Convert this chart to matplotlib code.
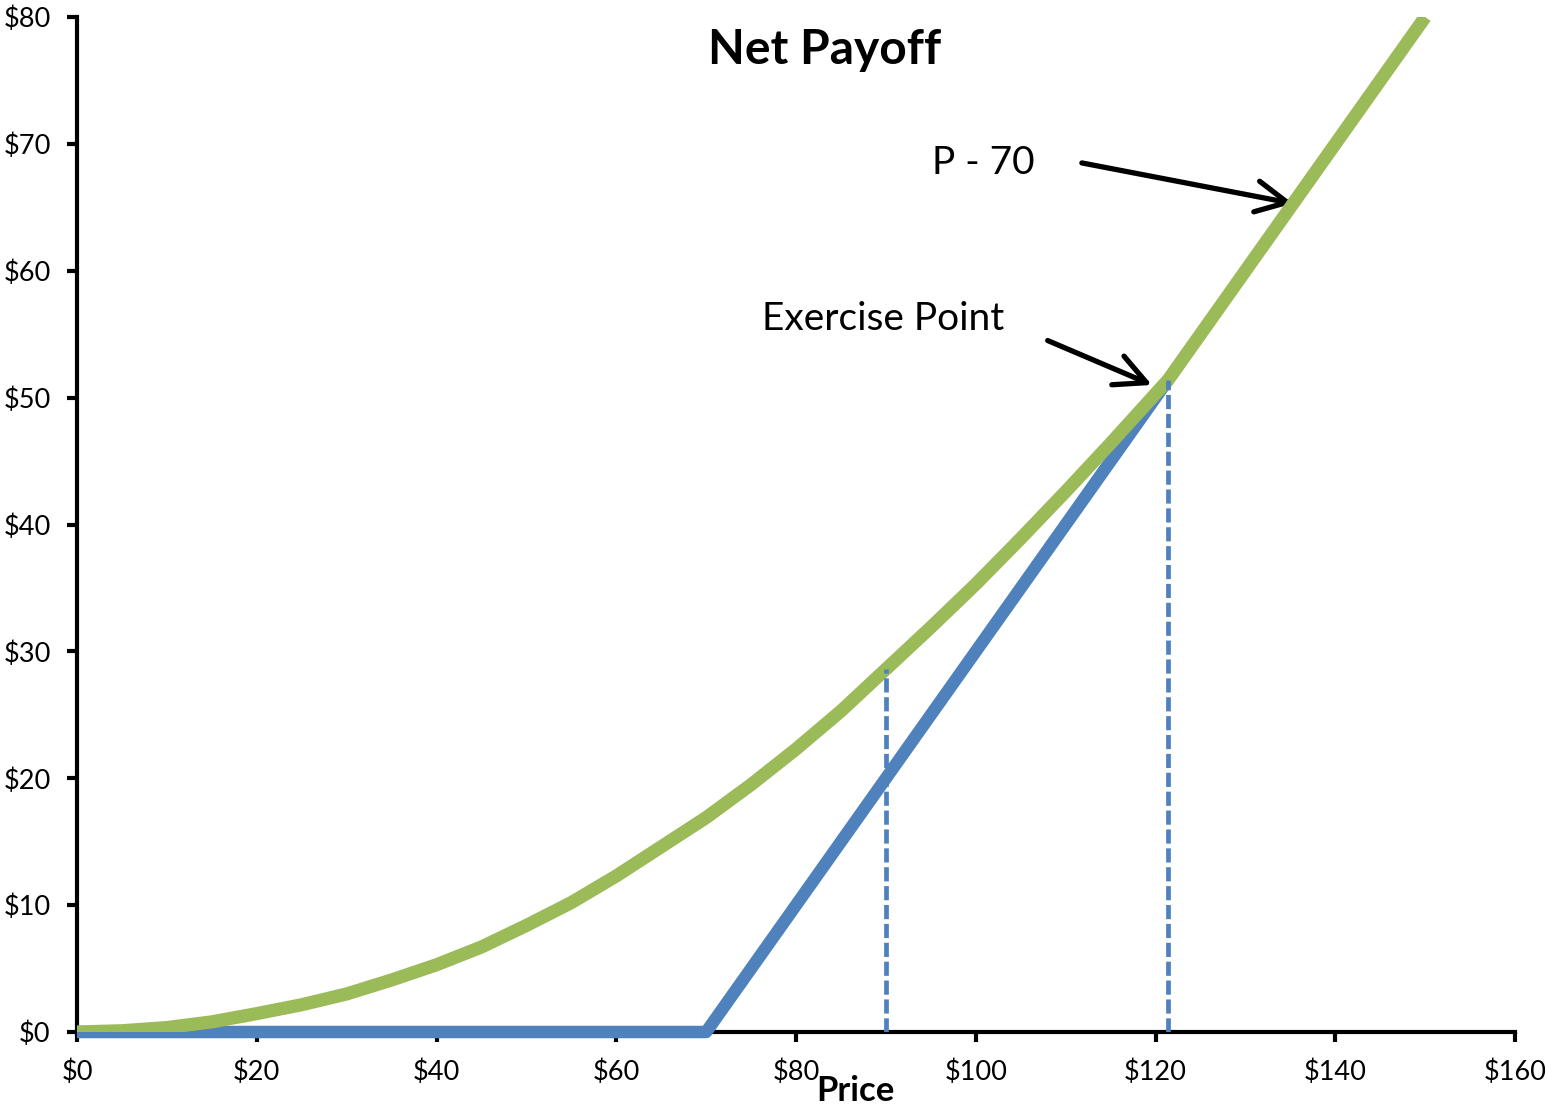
import numpy as np
import matplotlib.pyplot as plt

# -----------------------------------------------
# 1. data
# -----------------------------------------------
price = [0, 5, 10, 15, 20, 25, 30, 35, 40, 45, 50, 55, 60, 65, 70, 75,
         80, 85, 90, 95, 100, 105, 110, 115, 121.4, 130, 140, 150]
option_value = [0, 0.1, 0.35, 0.8, 1.45, 2.15, 3.0, 4.1, 5.3, 6.7, 8.4, 10.2,
                12.3, 14.6, 16.9, 19.5, 22.3, 25.3, 28.6, 31.9, 35.3, 38.9,
                42.6, 46.4, 51.4, 60, 70, 80]

# payoff from exercising: max(P - 70, 0), drawn up to the exercise point
payoff_price = [0, 70, 121.4]
payoff_value = [0, 0, 51.4]

# dashed guides at these prices
guide_price = [90, 121.4]

x_ticks = [0, 20, 40, 60, 80, 100, 120, 140, 160]
y_ticks = [0, 10, 20, 30, 40, 50, 60, 70, 80]

# -----------------------------------------------
# 2. plot
# -----------------------------------------------
plt.rcParams["font.family"] = ["Lato", "DejaVu Sans"]

GREEN = "#9BBB59"
BLUE = "#4F81BD"

fig = plt.figure(figsize=(15.46, 11.06), dpi=100)
ax = fig.add_axes([0.0498, 0.0669, 0.9302, 0.9177])

ax.plot(payoff_price, payoff_value, color=BLUE, lw=9, solid_capstyle="butt",
        solid_joinstyle="round", zorder=3, clip_on=False)
ax.plot(price, option_value, color=GREEN, lw=9.5, solid_capstyle="butt", zorder=4)

for gx in guide_price:
    top = np.interp(gx, price, option_value)
    ax.plot([gx, gx], [0, top], color=BLUE, lw=3.4, linestyle=(0, (3.0, 1.0)), zorder=5)

ax.set_xlim(0, 160)
ax.set_ylim(0, 80)
ax.set_xticks(x_ticks)
ax.set_yticks(y_ticks)
ax.set_xticklabels([f"${v}" for v in x_ticks])
ax.set_yticklabels([f"${v}" for v in y_ticks])

for side in ["top", "right"]:
    ax.spines[side].set_visible(False)
for side in ["left", "bottom"]:
    ax.spines[side].set_linewidth(3)
ax.tick_params(axis="both", direction="out", length=7, width=3, labelsize=19.5)
ax.tick_params(axis="x", pad=13)
ax.tick_params(axis="y", pad=12)

ax.set_xlabel("Price", fontsize=25, fontweight="bold")
ax.xaxis.set_label_coords(0.541, -0.042)

ax.text(83.2, 77.4, "Net Payoff", fontsize=34.5, fontweight="bold", ha="center", va="center")

# labels with arrows pointing at the curve
ax.text(95.1, 68.5, "P - 70", fontsize=28, ha="left", va="center")
ax.text(76.2, 56.2, "Exercise Point", fontsize=28, ha="left", va="center")

arrow = dict(arrowstyle="->,head_length=0.7,head_width=0.35", lw=3.8, color="black",
             shrinkA=0, shrinkB=0, mutation_scale=32)
ax.annotate("", xy=(135.3, 65.3), xytext=(111.8, 68.5), arrowprops=arrow)
ax.annotate("", xy=(119.6, 51.0), xytext=(108.0, 54.5), arrowprops=arrow)

plt.savefig("out.png", dpi=100)
